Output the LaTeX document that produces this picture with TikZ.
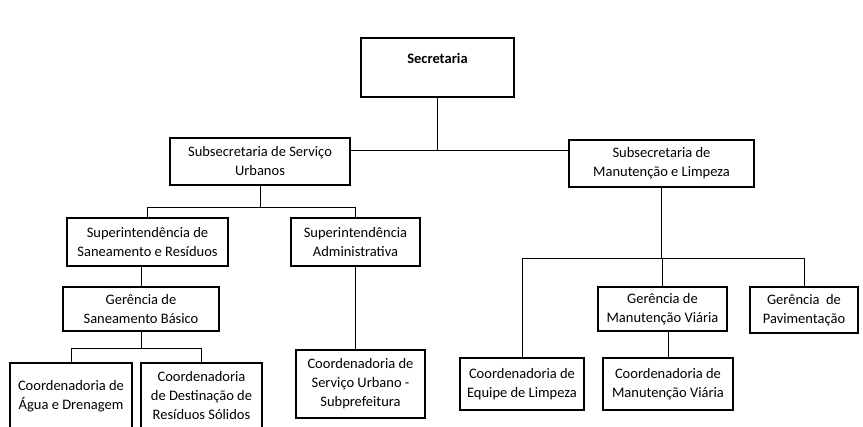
\documentclass[tikz,border=0pt]{standalone}
\usepackage{fontspec}
\setmainfont{Carlito}
\begin{document}
\begin{tikzpicture}[x=1pt,y=-1pt,
  box/.style={draw,line width=1.2pt,rectangle,align=center,inner sep=2pt,font=\fontsize{14.5}{19}\selectfont},
  ln/.style={line width=0.7pt}]
\useasboundingbox (0,0) rectangle (863,427);
\clip (0,0) rectangle (863,427);
\node[box,minimum width=153,minimum height=59] (sec) at (437.5,67.5) {\textbf{Secretaria}\\\mbox{}};
\node[box,minimum width=180,minimum height=47] (ssu) at (260,161.5) {Subsecretaria de Serviço\\Urbanos};
\node[box,minimum width=185,minimum height=47] (sml) at (661.5,163.5) {Subsecretaria de\\Manutenção e Limpeza};
\node[box,minimum width=161,minimum height=48] (ssr) at (147.5,242) {Superintendência de\\Saneamento e Resíduos};
\node[box,minimum width=129,minimum height=48] (sad) at (355.5,242) {Superintendência\\Administrativa};
\node[box,minimum width=156,minimum height=44] (gsb) at (141,309) {Gerência de\\Saneamento Básico};
\node[box,minimum width=122,minimum height=66] (cad) at (71,396) {Coordenadoria de\\Água e Drenagem};
\node[box,minimum width=121,minimum height=66] (cdr) at (201.5,396) {Coordenadoria\\de Destinação de\\Resíduos Sólidos};
\node[box,minimum width=129,minimum height=68] (csu) at (360.5,384) {Coordenadoria de\\Serviço Urbano -\\Subprefeitura};
\node[box,minimum width=124,minimum height=52] (cel) at (522,384) {Coordenadoria de\\Equipe de Limpeza};
\node[box,minimum width=129,minimum height=44] (gmv) at (662.5,309) {Gerência de\\Manutenção Viária};
\node[box,minimum width=108,minimum height=46] (gpv) at (804,310) {Gerência~ de\\Pavimentação};
\node[box,minimum width=130,minimum height=52] (cmv) at (668,384) {Coordenadoria de\\Manutenção Viária};
\coordinate (j1) at (437.5,150);
\coordinate (j2) at (260,207);
\coordinate (j3) at (141,348);
\coordinate (j4) at (661.5,258);
\draw[ln] (sec.south) -- (j1);
\draw[ln] (ssu.east|-j1) -- (sml.west|-j1);
\draw[ln] (ssu.south) -- (j2);
\draw[ln] (ssr.north|-j2) -- (sad.north|-j2);
\draw[ln] (ssr.north|-j2) -- (ssr.north);
\draw[ln] (sad.north|-j2) -- (sad.north);
\draw[ln] (ssr.south-|gsb.north) -- (gsb.north);
\draw[ln] (gsb.south) -- (j3);
\draw[ln] (cad.north|-j3) -- (cdr.north|-j3);
\draw[ln] (cad.north|-j3) -- (cad.north);
\draw[ln] (cdr.north|-j3) -- (cdr.north);
\draw[ln] (sad.south) -- (sad.south|-csu.north);
\draw[ln] (sml.south) -- (j4);
\draw[ln] (cel.north|-j4) -- (gpv.north|-j4);
\draw[ln] (cel.north|-j4) -- (cel.north);
\draw[ln] (gmv.north|-j4) -- (gmv.north);
\draw[ln] (gpv.north|-j4) -- (gpv.north);
\draw[ln] (cmv.north|-gmv.south) -- (cmv.north);
\end{tikzpicture}
\end{document}
